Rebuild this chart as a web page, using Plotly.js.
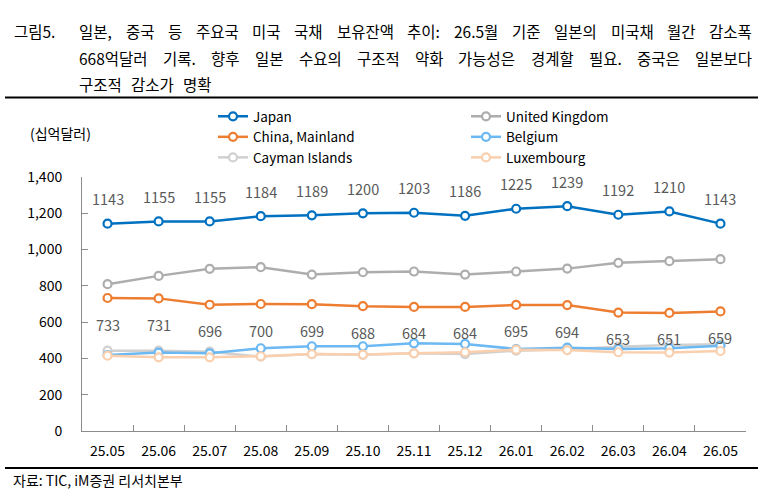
<!DOCTYPE html>
<html>
<head>
<meta charset="utf-8">
<script src="https://cdn.plot.ly/plotly-3.0.1.min.js"></script>
<style>
  html, body { margin: 0; padding: 0; background: #fff; }
  #chart { width: 763px; height: 498px; }
</style>
</head>
<body>
<div id="chart"></div>
<script>
// monthly US Treasury holdings, billions of dollars
const months = ['25.05', '25.06', '25.07', '25.08', '25.09', '25.10', '25.11',
                '25.12', '26.01', '26.02', '26.03', '26.04', '26.05'];
const japan = [1143, 1155, 1155, 1184, 1189, 1200, 1203, 1186, 1225, 1239, 1192, 1210, 1143];
const china = [733, 731, 696, 700, 699, 688, 684, 684, 695, 694, 653, 651, 659];
const uk = [809, 855, 894, 903, 862, 875, 879, 862, 879, 895, 927, 936, 947];
const belgium = [419, 432, 428, 456, 467, 467, 483, 480, 452, 459, 452, 456, 470];
const cayman = [443, 443, 437, 410, 424, 420, 428, 424, 443, 451, 465, 474, 478];
const luxembourg = [415, 406, 406, 412, 424, 421, 428, 434, 448, 446, 434, 432, 441];

const titleLines = [
    '일본, 중국 등 주요국 미국 국채 보유잔액 추이: 26.5월 기준 일본의 미국채 월간 감소폭',
    '668억달러 기록. 향후 일본 수요의 구조적 약화 가능성은 경계할 필요. 중국은 일본보다',
    '구조적 감소가 명확'
];

const FONT = '"Noto Sans CJK KR", "Noto Sans", sans-serif';
const LABEL_GREY = '#595959';
const TITLE_SIZE = 15.5;

// pixel helpers: plot area is 82..746 wide, 177..431 tall
const px = x => (x - 82) / 664;
const py = y => (431 - y) / 254;

function series(name, y, color, legend) {
    return {
        type: 'scatter',
        mode: 'lines+markers',
        name: name,
        x: months,
        y: y,
        legend: legend,
        line: { color: color, width: 2.5 },
        marker: { symbol: 'circle', size: 8, color: '#fff', line: { color: color, width: 2.2 } },
        hoverinfo: 'skip'
    };
}

const traces = [
    series('Japan', japan, '#0070C0', 'legend'),
    series('China, Mainland', china, '#ED7D31', 'legend'),
    series('Cayman Islands', cayman, '#D0D0D0', 'legend'),
    series('United Kingdom', uk, '#ADADAD', 'legend2'),
    series('Belgium', belgium, '#6CB8F2', 'legend2'),
    series('Luxembourg', luxembourg, '#F9CFAE', 'legend2')
];

// value labels: Japan above its points, China below
const dataAnnotations = [];
months.forEach((m, i) => {
    dataAnnotations.push({ xref: 'x', yref: 'y', x: i, y: japan[i], text: String(japan[i]), yshift: 25,
        showarrow: false, font: { family: FONT, size: 14.5, color: LABEL_GREY } });
    dataAnnotations.push({ xref: 'x', yref: 'y', x: i, y: china[i], text: String(china[i]), yshift: -26,
        showarrow: false, font: { family: FONT, size: 14.5, color: LABEL_GREY } });
});

// caption is justified in the source: measure words and spread them between 77 and 750 px
const ctx = document.createElement('canvas').getContext('2d');
ctx.font = TITLE_SIZE + 'px ' + FONT;
const lineY = [31, 58, 84];
const titleAnnotations = [{
    xref: 'paper', yref: 'paper', x: px(12), y: py(lineY[0]), text: '그림5.',
    xanchor: 'left', yanchor: 'middle', showarrow: false,
    font: { family: FONT, size: TITLE_SIZE, color: '#000' }
}];
titleLines.forEach((line, li) => {
    const words = line.split(' ');
    const widths = words.map(w => ctx.measureText(w).width);
    const total = widths.reduce((a, b) => a + b, 0);
    const last = li === titleLines.length - 1;
    const gap = last ? 9 : (750 - 77 - total) / (words.length - 1);
    let x = 77;
    words.forEach((word, wi) => {
        titleAnnotations.push({
            xref: 'paper', yref: 'paper', x: px(x), y: py(lineY[li]), text: word,
            xanchor: 'left', yanchor: 'middle', showarrow: false,
            font: { family: FONT, size: TITLE_SIZE, color: '#000' }
        });
        x += widths[wi] + gap;
    });
});

const otherText = [
    { xref: 'paper', yref: 'paper', x: px(28), y: py(133),
      xanchor: 'left', yanchor: 'middle', showarrow: false, text: '(십억달러)',
      font: { family: FONT, size: 14, color: '#000' } },
    { xref: 'paper', yref: 'paper', x: px(11), y: py(480),
      xanchor: 'left', yanchor: 'middle', showarrow: false, text: '자료: TIC, iM증권 리서치본부',
      font: { family: FONT, size: 14, color: '#000' } }
];

const rules = [97.5, 468].map(y => ({
    type: 'line', xref: 'paper', yref: 'paper',
    x0: px(5), x1: px(758), y0: py(y), y1: py(y),
    line: { color: '#000', width: 2 }
}));

const legendFont = { family: FONT, size: 13.5, color: '#000' };

const layout = {
    width: 763,
    height: 498,
    margin: { l: 82, r: 17, t: 177, b: 67 },
    paper_bgcolor: '#fff',
    plot_bgcolor: '#fff',
    font: { family: FONT, color: '#000' },
    showlegend: true,
    legend: {
        x: px(213), y: py(101), xanchor: 'left', yanchor: 'top',
        bgcolor: 'rgba(0,0,0,0)', font: legendFont, tracegroupgap: 0, itemwidth: 30
    },
    legend2: {
        x: px(466), y: py(101), xanchor: 'left', yanchor: 'top',
        bgcolor: 'rgba(0,0,0,0)', font: legendFont, tracegroupgap: 0, itemwidth: 30
    },
    xaxis: {
        type: 'category',
        range: [-0.5, 12.5],
        showgrid: false,
        showline: true,
        linecolor: '#8C8C8C',
        linewidth: 1,
        ticks: 'inside',
        tickson: 'boundaries',
        ticklen: 6,
        tickcolor: '#8C8C8C',
        ticklabelstandoff: 7,
        tickfont: { family: FONT, size: 14, color: '#000' },
        zeroline: false,
        fixedrange: true
    },
    yaxis: {
        range: [0, 1400],
        dtick: 200,
        tickformat: ',d',
        showgrid: false,
        showline: true,
        linecolor: '#8C8C8C',
        linewidth: 1,
        ticks: 'inside',
        ticklen: 6,
        tickcolor: '#8C8C8C',
        ticklabelstandoff: 16,
        tickfont: { family: FONT, size: 14, color: '#000' },
        zeroline: false,
        fixedrange: true
    },
    annotations: titleAnnotations.concat(otherText, dataAnnotations),
    shapes: rules
};

Plotly.newPlot('chart', traces, layout, { displayModeBar: false, staticPlot: true });
</script>
</body>
</html>
